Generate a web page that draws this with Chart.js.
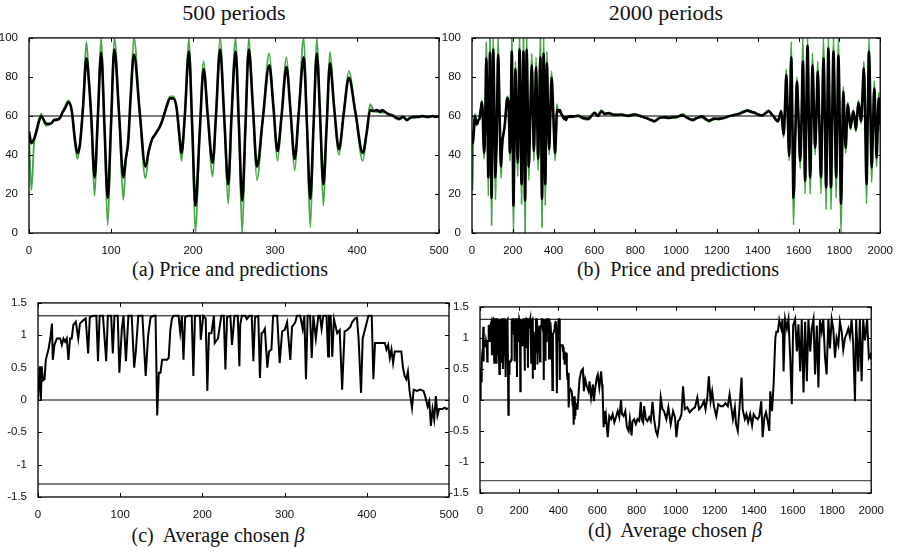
<!DOCTYPE html>
<html>
<head>
<meta charset="utf-8">
<title>Price and predictions / Average chosen beta</title>
<script src="https://cdn.jsdelivr.net/npm/chart.js@4/dist/chart.umd.min.js"></script>
<style>
  body { margin: 0; background: #fff; width: 897px; height: 555px; position: relative; overflow: hidden; }
  .panel { position: absolute; }
  .txt { position: absolute; font-family: "Liberation Serif", "DejaVu Serif", serif; color: #111; white-space: nowrap; transform: translateX(-50%); }
</style>
</head>
<body>
<div class="txt" style="left:234px; top:0px; font-size:22px;">500 periods</div>
<div class="txt" style="left:666px; top:0px; font-size:22px;">2000 periods</div>
<div class="txt" style="left:230px; top:258px; font-size:20px;">(a) Price and predictions</div>
<div class="txt" style="left:678px; top:258px; font-size:20px;">(b)&nbsp; Price and predictions</div>
<div class="txt" style="left:218px; top:524px; font-size:20px;">(c)&nbsp; Average chosen <i>β</i></div>
<div class="txt" style="left:675px; top:519px; font-size:20px;">(d)&nbsp; Average chosen <i>β</i></div>

<div class="panel" id="pa"><canvas id="ca"></canvas></div>
<div class="panel" id="pb"><canvas id="cb"></canvas></div>
<div class="panel" id="pc"><canvas id="cc"></canvas></div>
<div class="panel" id="pd"><canvas id="cd"></canvas></div>

<script type="text/javascript">

// ---- price run, first 500 periods (shared by panels a and b)
var periodsA = [0,3,6,9,12,15,18,21,25,28,31,34,38,41,44,48,52,56,59,62,66,70,73,76,80,84,88,92,96,100,
  104,110,115,118,121,124,128,135,142,146,150,153,156,159,162,165,168,172,176,180,183,186,190,195,199,203,208,213,218,224,
  228,233,238,243,247,252,256,260,264,268,273,278,285,293,298,303,308,314,319,324,329,335,339,343,347,351,355,359,363,367,
  372,378,384,390,398,407,412,416,420,424,428,431,434,438,444,448,452,456,461,465,469,474,480,486,492,496,500];
var priceA = [52,46,48,52,57,60,58,56,56,56.5,58,58,59,62,64,67,63,48,41,45,65,89.5,78,59,28.5,60,92.5,55,18,55,
  94,60,28.5,38,47,70,91.5,62,34,42,48,50,52,54,57,61,65,69,69,64,52,41,60,93,55,14,50,84,60,36,
  60,94,60,25,60,93,55,16.6,55,94,65,34,58,86,65,42,60,85,62,38,62,90,55,17.5,55,92,60,25,55,87,
  65,43,62,79.6,62,41,52,63,62.5,63,62,63,62,61,60,59,58.6,59.5,58,59,59.5,59.5,60,59.5,60,59.5,59.8];
var predA = [50,22,45,53,58,61,57,55,55.5,57,58,58.5,59.5,62,65,68,63,46,38,45,67,98,80,58,19,60,100,55,4,55,
  100,60,17,36,47,71,100,62,28,41,48,50,52,54,57,61,66,70,70,64,50,37,60,100,55,0,50,88,60,29,
  60,100,60,15,60,100,55,0,55,100,65,27,58,92,65,37,60,90,62,32,62,100,55,3,55,100,60,14,55,93,
  65,40,62,83,62,37,52,66,63,62,63,61.5,62.5,61,60.5,58.5,58,59.5,57.5,59.5,59,60,59.5,60,59.5,60,59.5];

// ---- price run, periods 520..2000 (panel b only)
var periodsLate = [520,545,569,601,617,634,650,667,700,732,765,797,829,850,878,894,919,943,966,1000,
  1031,1055,1080,1105,1128,1145,1161,1185,1210,1235,1258,1283,1307,1330,1348,1370,1389,1405,1421,1440,
  1454,1467,1478,1490,1499,1507,1515,1521,1527,1534,1540,1547,1554,1559,1564,1570,1575,1584,1592,1600,
  1608,1615,1621,1627,1632,1638,1644,1650,1657,1663,1668,1675,1681,1688,1694,1702,1710,1716,1722,1729,
  1735,1741,1746,1752,1759,1765,1771,1778,1784,1790,1795,1802,1808,1814,1819,1825,1831,1836,1841,1848,
  1854,1861,1868,1875,1881,1887,1893,1900,1906,1913,1920,1927,1933,1939,1945,1952,1958,1965,1971,1977,
  1982,1988,1993,2000];
var priceLate = [60,59,58.6,61.5,60,62.4,61,61.5,60.5,60.7,60,60.7,59.8,59,58,57.3,59,59.3,59,59.5,
  60.3,59,58,59,59.8,58.5,57.6,58.5,58.6,59,59.8,60.5,61,62,62.7,62,61.5,60.5,60.3,61.5,
  62.4,61,59.8,58,57.3,60,62.4,56,50.5,66,81,60,39.5,65,90,55,18,50,77.6,58,
  37,60,88,58,26.8,60,96,62,28.5,58,86,65,43.7,62,82.7,55,28.5,60,89.5,58,
  23.4,60,94.6,60,23.4,60,93,60,28.5,60,91,55,15,45,72.5,58,43.7,55,65.8,60,
  54,58,62.4,58,53,60,66.6,62,57.3,70,84.4,55,25,60,93,63,33.6,55,74,58,
  38.6,55,69,55.6];
var predLate = [60.5,58.5,58,62,60.5,63,61.5,61,61,60,60.5,61,59.5,59.5,57.5,57,59.5,59,59.5,59,
  61,59.5,57.5,59.5,59,58,57,59,58,59.5,60,60,61.5,62.5,63,62.5,61,61,60,62,
  63,60.5,59.5,57.5,57,60,63,55,49,67,84,60,37,65,98,55,4,50,80,58,
  33,60,100,58,20,60,100,62,20,58,92,65,40,62,88,55,20,60,100,58,
  12,60,100,60,12,60,100,60,18,60,100,55,0,45,75,58,41,55,67,60,
  53,58,63,58,52,60,68,62,56,70,88,55,15,60,100,63,26,55,78,58,
  34,55,72,52];
var fundamentalPrice = 60;

// ---- average chosen beta, first 500 periods (shared by panels c and d)
var periodsC = [0,2,3.5,4.5,6,8,9.5,13,15,17,18,20,23,27,29,31,33,35,37,39,41,43,46,49,51,55,58,61,63,67,
  71,73,75,79,83,85,89,91,93,97,99,102,104,107,110,114,117,119,122,127,131,134,137,141,143,145,147,149,151,157,
  159,161,163,165,171,173,175,177,179,183,187,189,191,197,198,201,204,206,208,211,214,215,219,223,226,228,230,234,236,239,
  243,245,246,248,252,254,257,260,262,264,268,270,272,274,276,279,281,284,286,291,294,297,300,303,307,309,313,315,319,322,
  324,326,328,331,333,335,338,341,343,345,347,351,353,354,356,358,360,364,367,370,373,376,380,382,386,388,390,393,395,398,
  402,406,408,410,416,422,424,426,428,430,432,434,436,439,442,444,446,448,450,452,455,457,461,465,469,471,474,476,478,480,
  482,484,486,488,492,495,497,499];
var betaC = [0,0.52,0,0.52,0.3,0.32,0.62,0.8,0.95,1.18,0.62,0.85,0.95,0.95,0.85,0.95,0.9,0.95,0.62,0.95,0.95,1.16,1.21,0.95,1.18,1.23,1.26,0.72,1.28,1.3,
  1.3,0.6,1.3,1.3,0.6,1.3,1.3,0.72,1.3,1.3,0.42,1.1,1.3,0.6,1.3,1.3,0.5,0.75,1.3,1.3,0.37,1.0,1.28,1.3,1.3,-0.24,0.42,0.42,0.62,0.62,
  0.65,1.08,1.26,1.3,1.3,1.05,1.3,0.62,1.28,1.3,1.3,0.37,1.3,1.3,0.93,1.3,1.26,0.14,1.03,1.03,1.3,0.88,0.95,1.3,1.3,0.47,1.28,1.3,0.85,1.3,
  1.3,0.52,1.16,1.3,1.3,1.25,1.3,1.3,0.6,1.28,1.3,0.34,1.03,1.05,1.1,0.5,0.75,0.78,1.3,1.3,0.57,1.06,1.08,1.2,0.62,1.13,1.2,1.3,1.3,1.1,
  1.3,0.32,1.3,1.3,0.65,1.3,0.95,1.3,1.3,1.1,1.3,1.3,0.67,1.3,1.3,0.67,1.25,1.03,1.08,0.16,1.06,1.08,1.13,1.2,1.26,1.27,0.95,0.11,0.95,1.1,
  1.3,1.3,0.32,0.88,0.88,0.88,0.78,0.85,0.65,0.78,0.57,0.75,0.75,0.75,0.75,0.5,0.37,0.32,0.44,0.14,-0.12,0.16,0.14,0.16,0.14,0.06,-0.1,-0.02,-0.4,-0.14,
  -0.3,0.06,-0.24,-0.14,-0.14,-0.12,-0.14,-0.13];

// ---- average chosen beta, periods 509..2000 (panel d only)
var periodsD = [509,517,526,531,538,546,555,560,568,577,582,588,597,602,610,619,624,627,632,636,639,644,653,661,670,678,687,695,704,712,
  721,726,734,743,751,760,766,775,780,788,797,805,814,822,827,834,839,848,856,865,873,882,890,899,907,916,924,933,941,953,
  963,975,987,997,1004,1013,1021,1030,1038,1047,1060,1072,1086,1099,1111,1120,1133,1145,1153,1162,1170,1179,1187,1196,1208,1218,1230,1242,1255,1267,
  1276,1284,1293,1303,1309,1318,1326,1337,1343,1354,1362,1371,1381,1391,1399,1408,1420,1428,1438,1445,1454,1462,1471,1479,1484,1493,1501,1506,1510,1515,
  1523,1530,1540,1547,1552,1560,1569,1577,1586,1594,1601,1611,1620,1628,1637,1645,1654,1662,1671,1679,1688,1696,1705,1713,1722,1730,1738,1747,1755,1764,
  1772,1781,1789,1798,1806,1815,1823,1832,1840,1849,1857,1866,1874,1883,1891,1900,1908,1917,1923,1934,1942,1951,1959,1968,1979,1988,1996,2000];
var betaD = [0.33,0.46,0.5,0.14,0.33,0.22,0.14,0.3,0.04,0.25,-0.02,0.17,0.36,0.41,0.2,0.46,0.25,0.12,-0.44,-0.18,-0.39,-0.26,-0.6,-0.26,-0.31,-0.23,-0.36,-0.28,-0.18,-0.28,
  0.0,-0.23,-0.26,-0.18,-0.44,-0.5,-0.31,-0.57,-0.34,-0.31,-0.39,-0.31,-0.34,-0.03,-0.31,-0.36,-0.1,-0.31,-0.34,-0.28,-0.34,-0.03,-0.31,-0.5,-0.57,-0.39,0.04,-0.15,-0.18,-0.31,
  -0.12,-0.39,-0.18,-0.28,-0.6,-0.34,-0.31,-0.23,0.22,-0.15,-0.12,-0.2,-0.15,-0.12,0.04,-0.15,-0.1,-0.02,-0.15,0.04,0.38,-0.02,0.14,-0.1,-0.26,-0.07,-0.1,-0.1,-0.05,-0.1,
  0.09,-0.1,-0.31,-0.12,-0.39,-0.5,-0.15,0.36,-0.15,-0.31,-0.23,-0.36,-0.23,-0.41,-0.23,-0.28,-0.31,-0.26,-0.02,-0.6,-0.28,-0.2,-0.34,-0.5,0.14,-0.18,0.25,0.68,1.0,1.1,
  1.1,1.29,1.15,1.3,0.46,1.3,1.15,1.3,0.68,-0.07,1.2,1.3,0.78,1.22,0.46,1.3,0.12,1.26,0.3,1.3,0.78,1.15,1.3,0.41,1.2,0.2,1.29,1.1,1.3,0.68,
  0.41,1.3,0.83,1.3,1.15,0.68,1.0,0.89,1.26,1.1,0.81,1.0,1.06,1.15,1.02,1.3,0.89,-0.02,1.3,0.46,1.3,0.3,1.3,0.96,1.3,0.68,0.73,0.65];
var betaBounds = [1.3, -1.3];

// ---- axis ticks
var priceTicks = [0, 20, 40, 60, 80, 100];
var betaTicks = [-1.5, -1, -0.5, 0, 0.5, 1, 1.5];

function pts(xs, ys) {
  return xs.map(function(x, i) { return { x: x, y: ys[i] }; });
}

// frame box with small inward tick marks on all four sides
var frameTicks = {
  id: 'frameTicks',
  afterDraw: function(chart) {
    var ctx = chart.ctx, a = chart.chartArea, sx = chart.scales.x, sy = chart.scales.y;
    ctx.save();
    ctx.strokeStyle = '#000';
    ctx.lineWidth = 1.3;
    ctx.strokeRect(a.left, a.top, a.right - a.left, a.bottom - a.top);
    ctx.lineWidth = 1;
    ctx.beginPath();
    sx.ticks.forEach(function(t) {
      var px = Math.round(sx.getPixelForValue(t.value)) + 0.5;
      ctx.moveTo(px, a.bottom); ctx.lineTo(px, a.bottom - 4);
      ctx.moveTo(px, a.top); ctx.lineTo(px, a.top + 4);
    });
    sy.ticks.forEach(function(t) {
      var py = Math.round(sy.getPixelForValue(t.value)) + 0.5;
      ctx.moveTo(a.left, py); ctx.lineTo(a.left + 4, py);
      ctx.moveTo(a.right, py); ctx.lineTo(a.right - 4, py);
    });
    ctx.stroke();
    ctx.restore();
  }
};

function plain(v) { return String(v); }

function makePanel(divId, canvasId, box, xMax, xStep, yTicks, datasets) {
  var padT = 8, padR = 14, yW = 40, xH = 22;
  var w = box.r - box.l + yW + padR, h = box.b - box.t + padT + xH;
  var div = document.getElementById(divId);
  div.style.left = (box.l - yW) + 'px';
  div.style.top = (box.t - padT) + 'px';
  var cv = document.getElementById(canvasId);
  cv.width = w; cv.height = h;
  cv.style.width = w + 'px'; cv.style.height = h + 'px';
  var tickFont = { family: '"Liberation Sans", Arial, sans-serif', size: 11.5 };
  return new Chart(cv.getContext('2d'), {
    type: 'line',
    data: { datasets: datasets },
    options: {
      responsive: false,
      animation: false,
      devicePixelRatio: 1,
      layout: { padding: { top: padT, right: padR, left: 0, bottom: 0 } },
      plugins: { legend: { display: false }, tooltip: { enabled: false } },
      elements: { point: { radius: 0 } },
      scales: {
        x: {
          type: 'linear', min: 0, max: xMax,
          ticks: { stepSize: xStep, color: '#111', font: tickFont, padding: 3, maxRotation: 0, callback: plain },
          grid: { display: false },
          border: { display: false },
          afterFit: function(s) { s.height = xH; }
        },
        y: {
          type: 'linear', min: yTicks[0], max: yTicks[yTicks.length - 1],
          afterBuildTicks: function(s) { s.ticks = yTicks.map(function(v) { return { value: v }; }); },
          ticks: { color: '#111', font: tickFont, padding: 3, callback: plain },
          grid: { display: false },
          border: { display: false },
          afterFit: function(s) { s.width = yW; }
        }
      }
    },
    plugins: [frameTicks]
  });
}

function hline(y, xMax, color, width) {
  return { data: [{ x: 0, y: y }, { x: xMax, y: y }], borderColor: color, borderWidth: width, order: 3, clip: 0 };
}

function priceSets(xs, price, pred, xMax) {
  return [
    { data: pts(xs, price), borderColor: '#000', borderWidth: 2.6, cubicInterpolationMode: 'monotone', order: 0, clip: 0 },
    { data: pts(xs, pred), borderColor: 'rgb(70,165,70)', borderWidth: 1.8, cubicInterpolationMode: 'monotone', order: 1, clip: 0 },
    hline(fundamentalPrice, xMax, '#7a7a7a', 2)
  ];
}

function betaSets(xs, beta, xMax) {
  return [
    { data: pts(xs, beta), borderColor: '#000', borderWidth: 2, tension: 0, order: 0, clip: 0 },
    hline(betaBounds[0], xMax, '#000', 1),
    hline(0, xMax, '#555', 1.4),
    hline(betaBounds[1], xMax, '#555', 1.4)
  ];
}

makePanel('pa', 'ca', { l: 29, t: 36, r: 439, b: 233 }, 500, 100, priceTicks,
  priceSets(periodsA, priceA, predA, 500));
makePanel('pb', 'cb', { l: 472, t: 36, r: 882, b: 233 }, 2000, 200, priceTicks,
  priceSets(periodsA.concat(periodsLate), priceA.concat(priceLate), predA.concat(predLate), 2000));
makePanel('pc', 'cc', { l: 38, t: 301, r: 449, b: 497 }, 500, 100, betaTicks,
  betaSets(periodsC, betaC, 500));
makePanel('pd', 'cd', { l: 480, t: 305, r: 873, b: 493 }, 2000, 200, betaTicks,
  betaSets(periodsC.concat(periodsD), betaC.concat(betaD), 2000));

</script>
</body>
</html>
